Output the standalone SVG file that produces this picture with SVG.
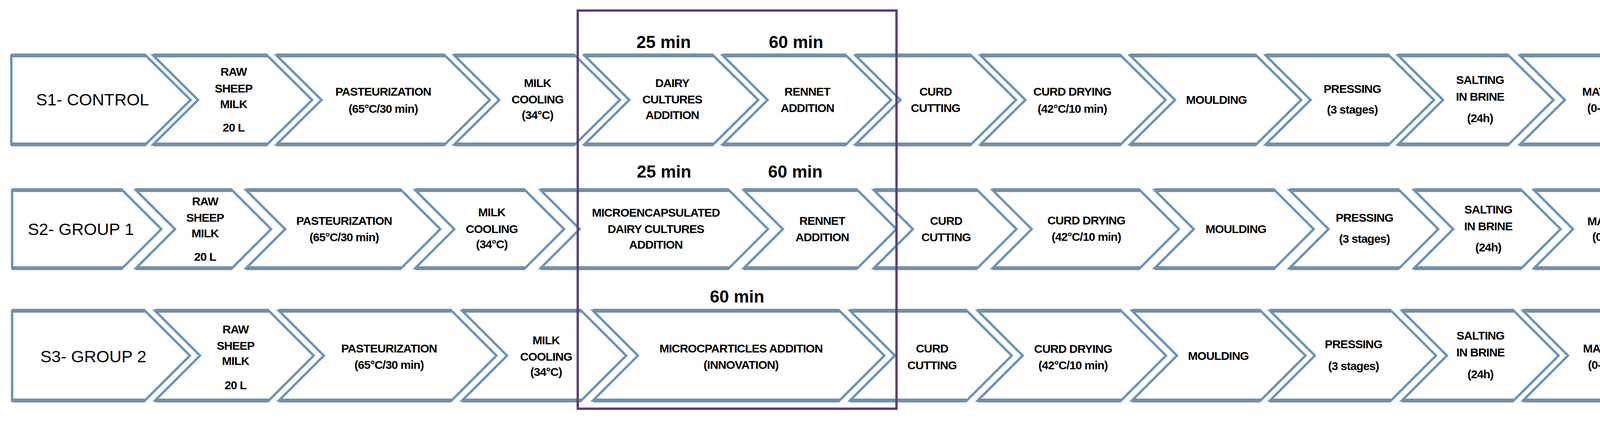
<svg xmlns="http://www.w3.org/2000/svg" width="4393" height="1099" viewBox="0 0 4393 1099">
<style>
.s{fill:#fff;stroke:#6a92bd;stroke-width:6;stroke-linejoin:miter}
.e{stroke:#7590a8;stroke-width:10;fill:none}
text{font-family:"Liberation Sans Narrow","Liberation Sans",sans-serif;fill:#000;text-anchor:middle}
.t{font-size:30px;font-weight:bold;letter-spacing:-1px}
.h{font-size:43px}
.m{font-size:44px;font-weight:bold}
</style>
<rect width="4393" height="1099" fill="#fff"/>
<g id="connectors"></g>
<g id="row1">
<g id="r1n1"><polygon class="s" points="29,142 373,142 488,256 373,370 29,370"/><text class="h" x="237" y="270">S1- CONTROL</text></g>
<g id="r1n2"><polygon class="s" points="392,142 684,142 799,256 684,370 392,370 507,256"/><text class="t"><tspan x="598" y="194">RAW</tspan><tspan x="598" y="237">SHEEP</tspan><tspan x="598" y="277">MILK</tspan><tspan x="598" y="337">20 L</tspan></text></g>
<g id="r1n3"><polygon class="s" points="708,142 1139,142 1254,256 1139,370 708,370 823,256"/><text class="t"><tspan x="981" y="245">PASTEURIZATION</tspan><tspan x="981" y="289">(65°C/30 min)</tspan></text></g>
<g id="r1n4"><polygon class="s" points="1163,142 1472,142 1587,256 1472,370 1163,370 1278,256"/><text class="t"><tspan x="1376" y="223">MILK</tspan><tspan x="1376" y="265">COOLING</tspan><tspan x="1376" y="305">(34°C)</tspan></text></g>
<g id="r1n5"><polygon class="s" points="1496,142 1826,142 1941,256 1826,370 1496,370 1611,256"/><text class="t"><tspan x="1721" y="223">DAIRY</tspan><tspan x="1721" y="265">CULTURES</tspan><tspan x="1721" y="305">ADDITION</tspan></text></g>
<g id="r1n6"><polygon class="s" points="1850,142 2166,142 2281,256 2166,370 1850,370 1965,256"/><text class="t"><tspan x="2067" y="245">RENNET</tspan><tspan x="2067" y="287">ADDITION</tspan></text></g>
<g id="r1n7"><polygon class="s" points="2190,142 2486,142 2601,256 2486,370 2190,370 2305,256"/><text class="t"><tspan x="2395" y="245">CURD</tspan><tspan x="2395" y="287">CUTTING</tspan></text></g>
<g id="r1n8"><polygon class="s" points="2510,142 2869,142 2984,256 2869,370 2510,370 2625,256"/><text class="t"><tspan x="2745" y="245">CURD DRYING</tspan><tspan x="2745" y="289">(42°C/10 min)</tspan></text></g>
<g id="r1n9"><polygon class="s" points="2893,142 3216,142 3331,256 3216,370 2893,370 3008,256"/><text class="t" x="3114" y="266">MOULDING</text></g>
<g id="r1n10"><polygon class="s" points="3240,142 3556,142 3671,256 3556,370 3240,370 3355,256"/><text class="t"><tspan x="3462" y="238">PRESSING</tspan><tspan x="3462" y="291">(3 stages)</tspan></text></g>
<g id="r1n11"><polygon class="s" points="3579,142 3862,142 3977,256 3862,370 3579,370 3694,256"/><text class="t"><tspan x="3789" y="215">SALTING</tspan><tspan x="3789" y="258">IN BRINE</tspan><tspan x="3789" y="313">(24h)</tspan></text></g>
<g id="r1n12"><polygon class="s" points="3891,142 4259,142 4374,256 4259,370 3891,370 4006,256"/><text class="t"><tspan x="4144" y="245">MATURATION</tspan><tspan x="4144" y="287">(0-120 days)</tspan></text></g>
<path class="e" d="M29 142H373M392 142H684M708 142H1139M1163 142H1472M1496 142H1826M1850 142H2166M2190 142H2486M2510 142H2869M2893 142H3216M3240 142H3556M3579 142H3862M3891 142H4259M29 370H373M392 370H684M708 370H1139M1163 370H1472M1496 370H1826M1850 370H2166M2190 370H2486M2510 370H2869M2893 370H3216M3240 370H3556M3579 370H3862M3891 370H4259"/>
<text class="m" x="1699" y="123">25 min</text><text class="m" x="2038" y="123">60 min</text>
</g>
<g id="row2">
<g id="r2n1"><polygon class="s" points="31,487 313,487 413,587 313,687 31,687"/><text class="h" x="207" y="602">S2- GROUP 1</text></g>
<g id="r2n2"><polygon class="s" points="348,487 594,487 694,587 594,687 348,687 448,587"/><text class="t"><tspan x="525" y="526">RAW</tspan><tspan x="525" y="568">SHEEP</tspan><tspan x="525" y="608">MILK</tspan><tspan x="525" y="668">20 L</tspan></text></g>
<g id="r2n3"><polygon class="s" points="630,487 1027,487 1127,587 1027,687 630,687 730,587"/><text class="t"><tspan x="881" y="576">PASTEURIZATION</tspan><tspan x="881" y="618">(65°C/30 min)</tspan></text></g>
<g id="r2n4"><polygon class="s" points="1063,487 1344,487 1444,587 1344,687 1063,687 1163,587"/><text class="t"><tspan x="1259" y="554">MILK</tspan><tspan x="1259" y="597">COOLING</tspan><tspan x="1259" y="636">(34°C)</tspan></text></g>
<g id="r2n5"><polygon class="s" points="1384,487 1866,487 1966,587 1866,687 1384,687 1484,587"/><text class="t"><tspan x="1679" y="555">MICROENCAPSULATED</tspan><tspan x="1679" y="597">DAIRY CULTURES</tspan><tspan x="1679" y="637">ADDITION</tspan></text></g>
<g id="r2n6"><polygon class="s" points="1904,487 2195,487 2295,587 2195,687 1904,687 2004,587"/><text class="t"><tspan x="2105" y="576">RENNET</tspan><tspan x="2105" y="618">ADDITION</tspan></text></g>
<g id="r2n7"><polygon class="s" points="2237,487 2502,487 2602,587 2502,687 2237,687 2337,587"/><text class="t"><tspan x="2422" y="576">CURD</tspan><tspan x="2422" y="618">CUTTING</tspan></text></g>
<g id="r2n8"><polygon class="s" points="2541,487 2918,487 3018,587 2918,687 2541,687 2641,587"/><text class="t"><tspan x="2781" y="575">CURD DRYING</tspan><tspan x="2781" y="617">(42°C/10 min)</tspan></text></g>
<g id="r2n9"><polygon class="s" points="2956,487 3263,487 3363,587 3263,687 2956,687 3056,587"/><text class="t" x="3164" y="597">MOULDING</text></g>
<g id="r2n10"><polygon class="s" points="3301,487 3582,487 3682,587 3582,687 3301,687 3401,587"/><text class="t"><tspan x="3493" y="568">PRESSING</tspan><tspan x="3493" y="622">(3 stages)</tspan></text></g>
<g id="r2n11"><polygon class="s" points="3620,487 3895,487 3995,587 3895,687 3620,687 3720,587"/><text class="t"><tspan x="3810" y="547">SALTING</tspan><tspan x="3810" y="590">IN BRINE</tspan><tspan x="3810" y="644">(24h)</tspan></text></g>
<g id="r2n12"><polygon class="s" points="3927,487 4279,487 4379,587 4279,687 3927,687 4027,587"/><text class="t"><tspan x="4157" y="577">MATURATION</tspan><tspan x="4157" y="617">(0-120 days)</tspan></text></g>
<path class="e" d="M31 487H313M348 487H594M630 487H1027M1063 487H1344M1384 487H1866M1904 487H2195M2237 487H2502M2541 487H2918M2956 487H3263M3301 487H3582M3620 487H3895M3927 487H4279M31 687H313M348 687H594M630 687H1027M1063 687H1344M1384 687H1866M1904 687H2195M2237 687H2502M2541 687H2918M2956 687H3263M3301 687H3582M3620 687H3895M3927 687H4279"/>
<text class="m" x="1700" y="455">25 min</text><text class="m" x="2036" y="455">60 min</text>
</g>
<g id="row3">
<g id="r3n1"><polygon class="s" points="31,796 371,796 486,911 371,1026 31,1026"/><text class="h" x="239" y="928">S3- GROUP 2</text></g>
<g id="r3n2"><polygon class="s" points="397,796 688,796 803,911 688,1026 397,1026 512,911"/><text class="t"><tspan x="603" y="854">RAW</tspan><tspan x="603" y="896">SHEEP</tspan><tspan x="603" y="935">MILK</tspan><tspan x="603" y="997">20 L</tspan></text></g>
<g id="r3n3"><polygon class="s" points="714,796 1156,796 1271,911 1156,1026 714,1026 829,911"/><text class="t"><tspan x="996" y="903">PASTEURIZATION</tspan><tspan x="996" y="945">(65°C/30 min)</tspan></text></g>
<g id="r3n4"><polygon class="s" points="1183,796 1488,796 1603,911 1488,1026 1183,1026 1298,911"/><text class="t"><tspan x="1398" y="882">MILK</tspan><tspan x="1398" y="924">COOLING</tspan><tspan x="1398" y="963">(34°C)</tspan></text></g>
<g id="r3n5"><polygon class="s" points="1518,796 2149,796 2264,911 2149,1026 1518,1026 1633,911"/><text class="t"><tspan x="1897" y="903">MICROCPARTICLES ADDITION</tspan><tspan x="1897" y="945">(INNOVATION)</tspan></text></g>
<g id="r3n6"><polygon class="s" points="2176,796 2475,796 2590,911 2475,1026 2176,1026 2291,911"/><text class="t"><tspan x="2386" y="903">CURD</tspan><tspan x="2386" y="946">CUTTING</tspan></text></g>
<g id="r3n7"><polygon class="s" points="2503,796 2870,796 2985,911 2870,1026 2503,1026 2618,911"/><text class="t"><tspan x="2747" y="904">CURD DRYING</tspan><tspan x="2747" y="946">(42°C/10 min)</tspan></text></g>
<g id="r3n8"><polygon class="s" points="2898,796 3227,796 3342,911 3227,1026 2898,1026 3013,911"/><text class="t" x="3119" y="922">MOULDING</text></g>
<g id="r3n9"><polygon class="s" points="3251,796 3561,796 3676,911 3561,1026 3251,1026 3366,911"/><text class="t"><tspan x="3465" y="892">PRESSING</tspan><tspan x="3465" y="948">(3 stages)</tspan></text></g>
<g id="r3n10"><polygon class="s" points="3589,796 3875,796 3990,911 3875,1026 3589,1026 3704,911"/><text class="t"><tspan x="3790" y="870">SALTING</tspan><tspan x="3790" y="913">IN BRINE</tspan><tspan x="3790" y="969">(24h)</tspan></text></g>
<g id="r3n11"><polygon class="s" points="3899,796 4273,796 4388,911 4273,1026 3899,1026 4014,911"/><text class="t"><tspan x="4146" y="903">MATURATION</tspan><tspan x="4146" y="945">(0-120 days)</tspan></text></g>
<path class="e" d="M31 796H371M397 796H688M714 796H1156M1183 796H1488M1518 796H2149M2176 796H2475M2503 796H2870M2898 796H3227M3251 796H3561M3589 796H3875M3899 796H4273M31 1026H371M397 1026H688M714 1026H1156M1183 1026H1488M1518 1026H2149M2176 1026H2475M2503 1026H2870M2898 1026H3227M3251 1026H3561M3589 1026H3875M3899 1026H4273"/>
<text class="m" x="1887" y="775">60 min</text>
</g>
<g id="highlight"><rect x="1479" y="27" width="816" height="1020" fill="none" stroke="#5c3f7a" stroke-width="6"/></g>
</svg>
